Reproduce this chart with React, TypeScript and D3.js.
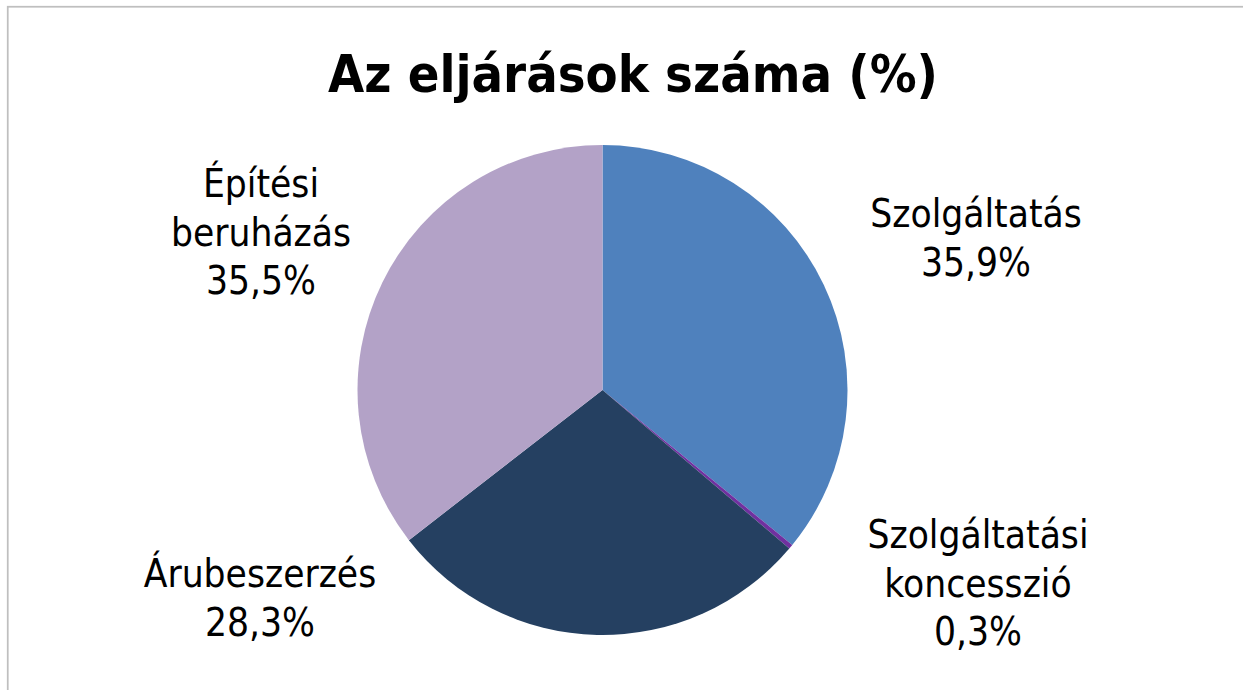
import React from "react";
import * as d3 from "d3";

const categories = ["Szolgáltatás", "Szolgáltatási koncesszió", "Árubeszerzés", "Építési beruházás"];
const values = [35.9, 0.3, 28.3, 35.5];
const labelLines = [["Szolgáltatás"], ["Szolgáltatási", "koncesszió"], ["Árubeszerzés"], ["Építési", "beruházás"]];
const colors = ["#4F81BD", "#7030A0", "#254061", "#B3A2C7"];
const title = "Az eljárások száma (%)";

// label anchor positions (layout)
const labelPos = [
  [976, 227],
  [978, 548],
  [260, 587],
  [261, 197],
];

export default function App() {
  const W = 1243, H = 690;
  const cx = 602.5, cy = 390, r = 245;
  const pie = d3.pie<number>().sort(null).value((d) => d)(values);
  const arc = d3.arc<d3.PieArcDatum<number>>().innerRadius(0).outerRadius(r);
  const fmt = (v: number) => v.toFixed(1).replace(".", ",") + "%";
  const font = "'DejaVu Sans Condensed', 'DejaVu Sans', sans-serif";
  const lh = 48.5;
  return (
    <svg width={W} height={H} style={{ position: "fixed", left: 0, top: 0, background: "#fff" }}>
      <rect x={7.75} y={6.75} width={1400} height={900} fill="#fff" stroke="#BFBFBF" strokeWidth={1.75} />
      <text x={633} y={92} textAnchor="middle" fontFamily={font} fontWeight="bold" fontSize={52} fill="#000">
        {title}
      </text>
      <g transform={`translate(${cx},${cy})`}>
        {pie.map((p, i) => (
          <path key={categories[i]} d={arc(p) || ""} fill={colors[i]} />
        ))}
      </g>
      {pie.map((p, i) => {
        const lines = [...labelLines[i], fmt(values[i])];
        const [x, y] = labelPos[i];
        return (
          <text key={"l" + i} x={x} y={y} textAnchor="middle" fontFamily={font} fontSize={38.5} fill="#000">
            {lines.map((t, j) => (
              <tspan key={j} x={x} y={y + j * lh}>{t}</tspan>
            ))}
          </text>
        );
      })}
    </svg>
  );
}
